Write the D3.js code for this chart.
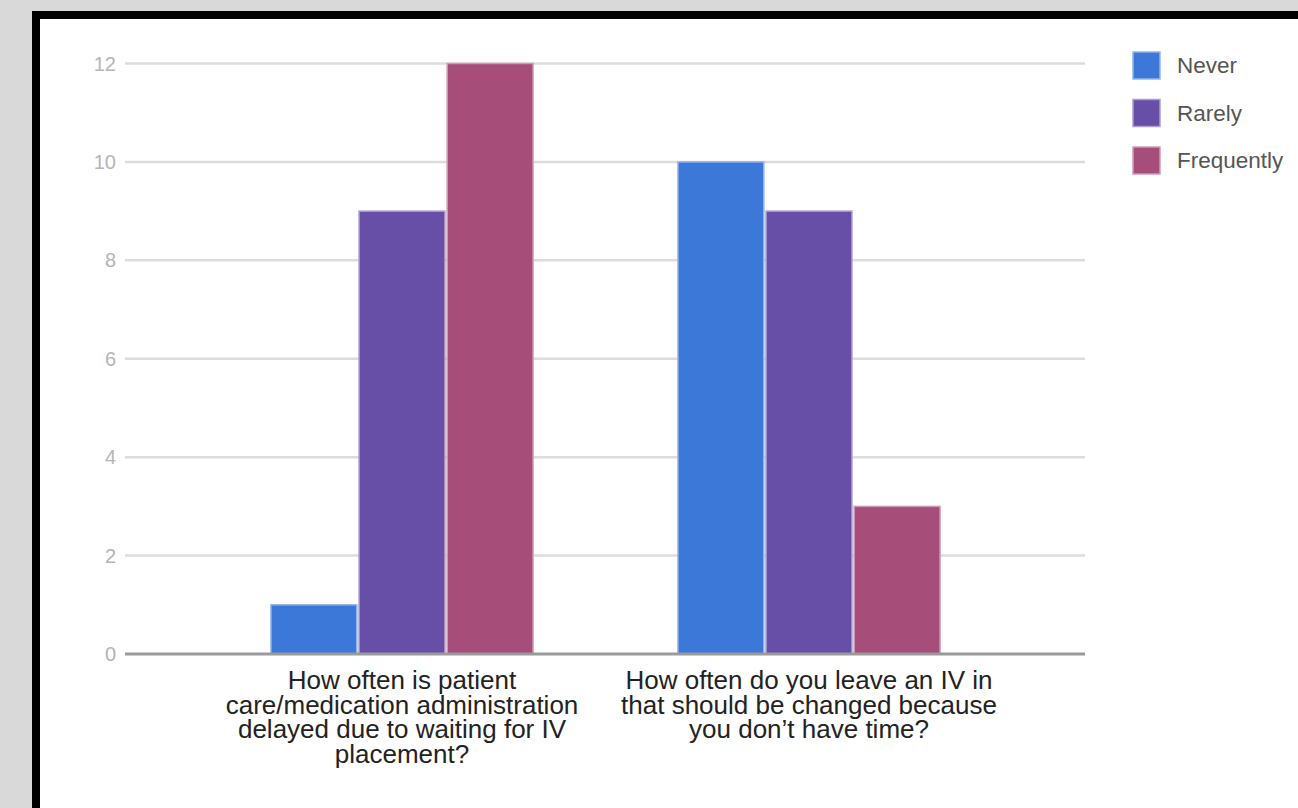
<!DOCTYPE html>
<html>
<head>
<meta charset="utf-8">
<script src="https://cdn.jsdelivr.net/npm/d3@7"></script>
<style>
  html, body { margin: 0; padding: 0; background: #dadada; }
  svg { display: block; }
</style>
</head>
<body>
<svg id="chart" width="1298" height="808"></svg>
<script>
// Survey responses per question
const categories = ["q1", "q2"];
const categoryLines = [
  ["How often is patient", "care/medication administration", "delayed due to waiting for IV", "placement?"],
  ["How often do you leave an IV in", "that should be changed because", "you don\u2019t have time?"]
];
const seriesNames = ["Never", "Rarely", "Frequently"];
const seriesColors = ["#3c78d8", "#674ea7", "#a64d79"];
const never = [1, 10];
const rarely = [9, 9];
const frequently = [12, 3];
const yTicks = [0, 2, 4, 6, 8, 10, 12];

const rows = categories.map((c, i) => ({
  cat: c,
  values: [never[i], rarely[i], frequently[i]]
}));

const svg = d3.select("#chart");
const W = 1298, H = 808;

// page frame: black border and white panel
svg.append("rect").attr("x", 0).attr("y", 0).attr("width", W).attr("height", H).attr("fill", "#d9d9d9");
svg.append("rect").attr("x", 32).attr("y", 11).attr("width", W).attr("height", H).attr("fill", "#000");
svg.append("rect").attr("x", 40).attr("y", 19).attr("width", W).attr("height", H).attr("fill", "#fff");

const gridLeft = 125, gridRight = 1085;
const y = d3.scaleLinear().domain([0, 12]).range([654, 63.5]);

const x0 = d3.scaleBand().domain(categories).range([198.5, 1012.5])
  .paddingInner(0.356).paddingOuter(0.178);
const x1 = d3.scaleBand().domain(d3.range(seriesNames.length)).range([0, x0.bandwidth()])
  .paddingInner(0.025);

// gridlines
svg.append("g").selectAll("line").data(yTicks.filter(t => t > 0)).join("line")
  .attr("x1", gridLeft).attr("x2", gridRight)
  .attr("y1", d => y(d)).attr("y2", d => y(d))
  .attr("stroke", "#dcdcdc").attr("stroke-width", 2.5);

// y tick labels
svg.append("g").selectAll("text").data(yTicks).join("text")
  .attr("x", 116).attr("y", d => y(d))
  .attr("text-anchor", "end").attr("dominant-baseline", "central")
  .attr("font-family", "Liberation Sans, Arial, sans-serif")
  .attr("font-size", 20).attr("fill", "#b5b5b5")
  .text(d => d);

// bars
const groups = svg.append("g").selectAll("g").data(rows).join("g")
  .attr("transform", d => `translate(${x0(d.cat)},0)`);
groups.selectAll("rect").data(d => d.values.map((v, i) => ({ v, i }))).join("rect")
  .attr("x", d => x1(d.i))
  .attr("y", d => y(d.v))
  .attr("width", x1.bandwidth())
  .attr("height", d => y(0) - y(d.v))
  .attr("fill", d => seriesColors[d.i])
  .attr("stroke", d => d3.interpolateRgb(seriesColors[d.i], "#fff")(0.45))
  .attr("stroke-width", 1.5);

// baseline
svg.append("line")
  .attr("x1", gridLeft).attr("x2", gridRight)
  .attr("y1", y(0)).attr("y2", y(0))
  .attr("stroke", "#9a9a9a").attr("stroke-width", 3);

// category labels
const labels = svg.append("g").selectAll("text").data(categories).join("text")
  .attr("text-anchor", "middle")
  .attr("font-family", "Liberation Sans, Arial, sans-serif")
  .attr("font-size", 26).attr("fill", "#222");
labels.each(function(c, i) {
  const cx = x0(c) + x0.bandwidth() / 2;
  d3.select(this).selectAll("tspan").data(categoryLines[i]).join("tspan")
    .attr("x", cx)
    .attr("y", (d, j) => 689 + j * 24.7)
    .text(d => d);
});

// legend
const legend = svg.append("g").selectAll("g").data(seriesNames).join("g")
  .attr("transform", (d, i) => `translate(1133,${65.5 + i * 47.5})`);
legend.append("rect")
  .attr("x", 0).attr("y", -13.5).attr("width", 27).attr("height", 27)
  .attr("fill", (d, i) => seriesColors[i])
  .attr("stroke", (d, i) => d3.interpolateRgb(seriesColors[i], "#fff")(0.45))
  .attr("stroke-width", 1.5);
legend.append("text")
  .attr("x", 44).attr("y", 0).attr("dominant-baseline", "central")
  .attr("font-family", "Liberation Sans, Arial, sans-serif")
  .attr("font-size", 22.5).attr("fill", "#555")
  .text(d => d);
</script>
</body>
</html>
